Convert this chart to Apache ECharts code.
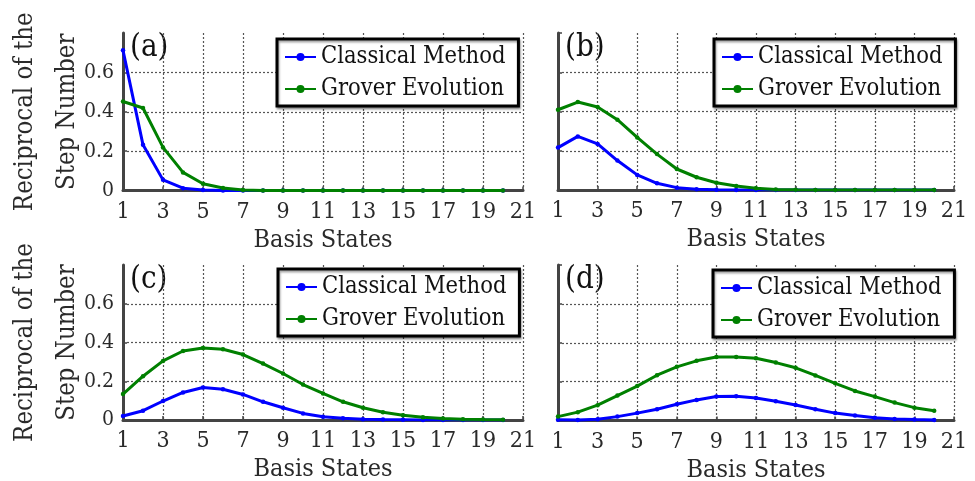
<!DOCTYPE html>
<html><head><meta charset="utf-8">
<script src="https://cdn.jsdelivr.net/npm/echarts@6/dist/echarts.min.js"></script>
<style>html,body{margin:0;padding:0;background:#fff}#c{width:975px;height:481px}</style>
</head><body><div id="c"></div>
<script>
const basisStates = [1,2,3,4,5,6,7,8,9,10,11,12,13,14,15,16,17,18,19,20];
const xTicks = [1,3,5,7,9,11,13,15,17,19,21];
const yTicks = [0,0.2,0.4,0.6];
const panelLabels = ['(a)','(b)','(c)','(d)'];
const seriesNames = ['Classical Method','Grover Evolution'];

const classicalA = [0.712,0.232,0.054,0.012,0.002,0,0,0,0,0,0,0,0,0,0,0,0,0,0,0];
const groverA    = [0.452,0.419,0.219,0.092,0.034,0.013,0.003,0,0,0,0,0,0,0,0,0,0,0,0,0];
const classicalB = [0.216,0.273,0.235,0.150,0.077,0.034,0.012,0.004,0.001,0,0,0,0,0,0,0,0,0,0,0];
const groverB    = [0.409,0.448,0.423,0.358,0.268,0.183,0.107,0.065,0.037,0.020,0.009,0.003,0.001,0,0,0,0,0,0,0];
const classicalC = [0.021,0.048,0.098,0.142,0.168,0.159,0.132,0.094,0.063,0.034,0.017,0.009,0.004,0.002,0.001,0,0,0,0,0];
const groverC    = [0.134,0.226,0.305,0.356,0.372,0.365,0.338,0.291,0.240,0.183,0.137,0.094,0.063,0.040,0.024,0.014,0.008,0.004,0.002,0.001];
const classicalD = [0.004,0.003,0.006,0.020,0.038,0.058,0.084,0.106,0.123,0.125,0.116,0.099,0.080,0.058,0.038,0.026,0.014,0.008,0.005,0.003];
const groverD    = [0.020,0.043,0.079,0.128,0.177,0.233,0.276,0.307,0.327,0.327,0.320,0.298,0.271,0.232,0.191,0.152,0.123,0.092,0.066,0.050];

const panels = [[classicalA,groverA],[classicalB,groverB],[classicalC,groverC],[classicalD,groverD]];
const FONT = '"DejaVu Serif Condensed","DejaVu Serif",serif';
const colors = ['#0000ff','#008000'];
const grids = [
  {left:123, top:33, width:400, height:157.5},
  {left:558, top:33, width:396, height:157},
  {left:123, top:265, width:400, height:155},
  {left:558, top:265, width:396, height:155.5}
];
const legendPos = [
  {left:277, top:39}, {left:714, top:39}, {left:278, top:269}, {left:713, top:270}
];
const axisGray = '#444';
const gridLineColor = '#555';
const textColor = '#2a2a2a';

const option = {
  animation:false,
  backgroundColor:'#fff',
  textStyle:{fontFamily:FONT},
  grid: grids.map(g => Object.assign({containLabel:false, outerBoundsMode:'none'}, g)),
  xAxis: grids.map((g,i) => ({
    gridIndex:i, type:'value', min:1, max:21, interval:2,
    name:'Basis States', nameLocation:'middle', nameGap:37,
    nameTextStyle:{fontFamily:FONT, fontSize:25, color:textColor},
    axisLine:{show:true, onZero:false, lineStyle:{color:axisGray, width:3}},
    axisTick:{show:true, inside:true, length:4, lineStyle:{color:axisGray, width:1.5}},
    axisLabel:{fontFamily:FONT, fontSize:23, color:textColor, margin:10,
      formatter: v => xTicks.includes(v) ? String(v) : ''},
    splitLine:{show:true, lineStyle:{color:gridLineColor, width:1.2, type:[2,2]}}
  })),
  yAxis: grids.map((g,i) => ({
    gridIndex:i, type:'value', min:0, max:0.8, interval:0.2,
    name: (i % 2 === 0) ? 'Reciprocal of the\nStep Number' : '',
    nameLocation:'middle', nameGap:35, nameRotate:90, nameMoveOverlap:false,
    nameTextStyle:{fontFamily:FONT, fontSize:25.5, color:textColor, lineHeight:42},
    axisLine:{show:true, onZero:false, lineStyle:{color:axisGray, width:3}},
    axisTick:{show:true, inside:true, length:4, lineStyle:{color:axisGray, width:1.5}},
    axisLabel:{show: i % 2 === 0, fontFamily:FONT, fontSize:21, color:textColor, margin:9,
      showMaxLabel:false,
      formatter: v => yTicks.some(t => Math.abs(t - v) < 1e-9) ? (v === 0 ? '0' : v.toFixed(1)) : ''},
    splitLine:{show:true, lineStyle:{color:[gridLineColor,gridLineColor,gridLineColor,gridLineColor,'rgba(0,0,0,0)'], width:1.2, type:[2,2]}}
  })),
  legend: legendPos.map((p,i) => ({
    left:p.left, top:p.top, orient:'vertical',
    data: seriesNames, selectedMode:false,
    backgroundColor:'#fff', borderColor:'#000', borderWidth:3, borderRadius:0,
    padding:[6,13,5,7], itemGap:8, itemWidth:31, itemHeight:10,
    textStyle:{fontFamily:FONT, fontSize:23.5, color:'#111'},
    shadowColor:'rgba(0,0,0,0.35)', shadowOffsetX:1, shadowOffsetY:2, shadowBlur:2
  })),
  graphic: panelLabels.map((t,i) => ({
    type:'text', left: grids[i].left + 7, top: grids[i].top - 1,
    style:{text:t, font:'31px ' + FONT, fill:'#111'}
  })),
  series: []
};
panels.forEach((pair, i) => {
  pair.forEach((vals, k) => {
    option.series.push({
      name: seriesNames[k], type:'line', xAxisIndex:i, yAxisIndex:i,
      data: basisStates.map((x,j) => [x, vals[j]]),
      symbol:'circle', symbolSize:4.5, showSymbol:true,
      lineStyle:{color:colors[k], width:3},
      itemStyle:{color:colors[k]},
      z: 3 + k
    });
  });
});
const chart = echarts.init(document.getElementById('c'), null, {renderer:'canvas'});
chart.setOption(option);
</script></body></html>
